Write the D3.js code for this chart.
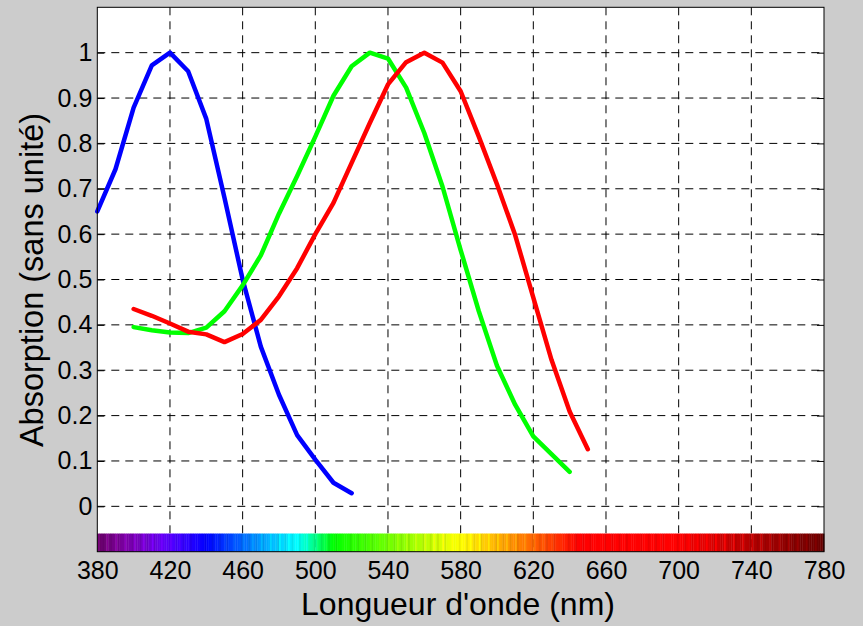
<!DOCTYPE html>
<html>
<head>
<meta charset="utf-8">
<script src="https://cdn.jsdelivr.net/npm/d3@7"></script>
<style>
  html, body { margin: 0; padding: 0; background: #cccccc; }
  svg { display: block; font-family: "Liberation Sans", Arial, sans-serif; }
  .axis text { font-size: 25px; fill: #000; }
  .axis .domain { display: none; }
  .axis line { stroke: #000; }
</style>
</head>
<body>
<div class="chart"></div>
<script>
// wavelengths (nm) for each curve
const BLUE_NM = [380, 390, 400, 410, 420, 430, 440, 450, 460, 470, 480, 490, 500, 510, 520];
const BLUE_ABS = [0.65, 0.743, 0.879, 0.972, 1.0, 0.959, 0.854, 0.68, 0.5, 0.352, 0.246, 0.157, 0.103, 0.052, 0.029];

const GREEN_NM = [400, 410, 420, 430, 440, 450, 460, 470, 480, 490, 500, 510, 520, 530, 540, 550, 560, 570, 580, 590, 600, 610, 620, 630, 640];
const GREEN_ABS = [0.395, 0.388, 0.383, 0.382, 0.394, 0.43, 0.487, 0.553, 0.645, 0.728, 0.815, 0.905, 0.97, 1.0, 0.987, 0.923, 0.823, 0.705, 0.565, 0.43, 0.31, 0.224, 0.154, 0.115, 0.076];

const RED_NM = [400, 410, 420, 430, 440, 450, 460, 470, 480, 490, 500, 510, 520, 530, 540, 550, 560, 570, 580, 590, 600, 610, 620, 630, 640, 650];
const RED_ABS = [0.435, 0.42, 0.403, 0.385, 0.379, 0.362, 0.38, 0.411, 0.463, 0.525, 0.6, 0.669, 0.757, 0.845, 0.93, 0.979, 1.0, 0.978, 0.915, 0.815, 0.71, 0.598, 0.46, 0.323, 0.209, 0.126];

const X_TICKS = [380, 420, 460, 500, 540, 580, 620, 660, 700, 740, 780];
const Y_TICKS = [0, 0.1, 0.2, 0.3, 0.4, 0.5, 0.6, 0.7, 0.8, 0.9, 1];

const X_LABEL = "Longueur d'onde (nm)";
const Y_LABEL = "Absorption (sans unité)";

const WIDTH = 863;
const HEIGHT = 626;
const PLOT = { left: 97.3, right: 824, top: 7.3, bottom: 551.7 };

const series = [
  { nm: BLUE_NM, abs: BLUE_ABS, color: "#0000ff" },
  { nm: GREEN_NM, abs: GREEN_ABS, color: "#00ff00" },
  { nm: RED_NM, abs: RED_ABS, color: "#ff0000" },
];

const svg = d3.select(".chart")
  .append("svg")
  .attr("width", WIDTH)
  .attr("height", HEIGHT);

const xScale = d3.scaleLinear().domain([380, 780]).range([PLOT.left, PLOT.right]);
const yScale = d3.scaleLinear().domain([-0.1, 1.1]).range([PLOT.bottom, PLOT.top]);

// white plot area
svg.append("rect")
  .attr("x", PLOT.left)
  .attr("y", PLOT.top)
  .attr("width", PLOT.right - PLOT.left)
  .attr("height", PLOT.bottom - PLOT.top)
  .attr("fill", "#fff");

// dashed grid
const grid = svg.append("g").attr("class", "grid")
  .attr("stroke", "#000")
  .attr("stroke-width", 1)
  .attr("stroke-dasharray", "8,6");
grid.selectAll(".vgrid")
  .data(X_TICKS.slice(1, -1))
  .join("line")
  .attr("x1", d => xScale(d)).attr("x2", d => xScale(d))
  .attr("y1", PLOT.top).attr("y2", PLOT.bottom);
grid.selectAll(".hgrid")
  .data(Y_TICKS)
  .join("line")
  .attr("class", "hgrid")
  .attr("x1", PLOT.left).attr("x2", PLOT.right)
  .attr("y1", d => yScale(d)).attr("y2", d => yScale(d));

// wavelength -> rgb (Bruton's approximation)
function spectrumColor(w) {
  let r = 0, g = 0, b = 0;
  if (w < 440) { r = -(w - 440) / 60; b = 1; }
  else if (w < 490) { g = (w - 440) / 50; b = 1; }
  else if (w < 510) { g = 1; b = -(w - 510) / 20; }
  else if (w < 580) { r = (w - 510) / 70; g = 1; }
  else if (w < 645) { r = 1; g = -(w - 645) / 65; }
  else { r = 1; }
  let f = 1;
  if (w < 420) f = 0.4 + 0.6 * (w - 380) / 40;
  else if (w > 700) f = 0.4 + 0.6 * (780 - w) / 80;
  return d3.rgb(r * f * 255, g * f * 255, b * f * 255);
}

// spectrum strip at the bottom of the axes, one stripe per nm
const stripes = d3.range(380, 780, 1);
svg.append("g").attr("class", "spectrum")
  .selectAll("rect")
  .data(stripes)
  .join("rect")
  .attr("x", d => xScale(d))
  .attr("width", xScale(381) - xScale(380) + 0.4)
  .attr("y", yScale(-0.06))
  .attr("height", yScale(-0.1) - yScale(-0.06))
  .attr("fill", (d, i) => {
    const c = spectrumColor(d + 0.5);
    // light stripe texture
    return (i * 7) % 5 === 0 ? c.brighter(0.45) : (i * 3) % 4 === 1 ? c.darker(0.2) : c;
  });

// curves
const line = d3.line()
  .x(d => xScale(d[0]))
  .y(d => yScale(d[1]));
svg.append("g").attr("class", "curves")
  .selectAll("path")
  .data(series)
  .join("path")
  .attr("d", s => line(s.nm.map((n, i) => [n, s.abs[i]])))
  .attr("fill", "none")
  .attr("stroke", s => s.color)
  .attr("stroke-width", 4.5)
  .attr("stroke-linejoin", "round")
  .attr("stroke-linecap", "round");

// axes: ticks inside the box
svg.append("g")
  .attr("class", "axis y-axis")
  .attr("transform", `translate(${PLOT.left}, 0)`)
  .call(d3.axisLeft(yScale).tickValues(Y_TICKS).tickSizeInner(-7).tickSizeOuter(0).tickPadding(5)
    .tickFormat(d => d3.format("~g")(d)));

svg.append("g")
  .attr("class", "axis y-axis-right")
  .attr("transform", `translate(${PLOT.right}, 0)`)
  .call(d3.axisRight(yScale).tickValues(Y_TICKS).tickSizeInner(-7).tickSizeOuter(0).tickFormat(""));

svg.append("g")
  .attr("class", "axis x-axis")
  .attr("transform", `translate(0, ${PLOT.bottom})`)
  .call(d3.axisBottom(xScale).tickValues(X_TICKS).tickSize(0).tickPadding(10));

// frame
svg.append("rect")
  .attr("x", PLOT.left)
  .attr("y", PLOT.top)
  .attr("width", PLOT.right - PLOT.left)
  .attr("height", PLOT.bottom - PLOT.top)
  .attr("fill", "none")
  .attr("stroke", "#000")
  .attr("stroke-width", 1);

// axis titles
svg.append("text")
  .attr("x", 458)
  .attr("y", 615)
  .attr("text-anchor", "middle")
  .attr("font-size", 32)
  .text(X_LABEL);

svg.append("text")
  .attr("transform", `translate(43, 280) rotate(-90)`)
  .attr("text-anchor", "middle")
  .attr("font-size", 32.5)
  .text(Y_LABEL);
</script>
</body>
</html>
